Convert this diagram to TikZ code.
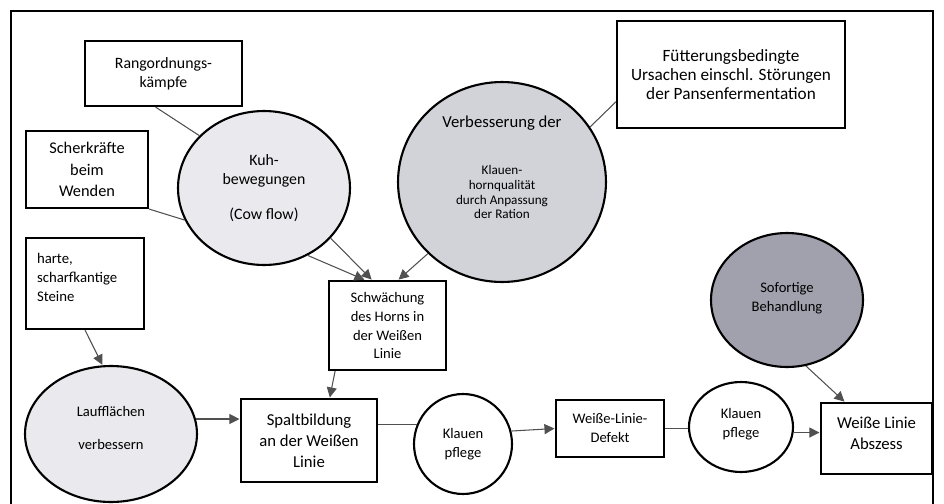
\documentclass[tikz,border=0pt]{standalone}
\usepackage{fontspec}
\setmainfont{Carlito}
\usepackage{xcolor}
\usepackage{tikz}
\usetikzlibrary{calc,arrows.meta,shapes.geometric}
\definecolor{lightg}{HTML}{E9E9EE}
\definecolor{midg}{HTML}{D2D2D9}
\definecolor{darkg}{HTML}{A0A1AD}
\definecolor{lnx}{HTML}{505050}
\newcommand{\fa}{\fontsize{9}{10.8}\selectfont}
\newcommand{\fb}{\fontsize{8.3}{10.8}\selectfont}
\newcommand{\fc}{\fontsize{9.5}{12}\selectfont}
\tikzset{
  bx/.style={draw,line width=1.2pt,inner sep=2pt,align=center,font=\fa},
  el/.style={ellipse,draw,line width=1.2pt,inner sep=0pt,align=center,font=\fa},
  ln/.style={line width=0.6pt,lnx},
  ar/.style={ln,-{Triangle[length=2mm,width=2mm]},shorten >=0.3pt}
}
\begin{document}
\begin{tikzpicture}[x=0.02cm,y=-0.02cm]
\useasboundingbox (0,0) rectangle (944,504);
\draw[line width=1.6pt] (11,504) -- (11,11) -- (933,11) -- (933,504);
% boxes
\node[bx,minimum width=3.14cm,minimum height=1.3cm] (rang) at (163.5,73.5) {Rangordnungs-\\kämpfe};
\node[bx,minimum width=2.44cm,minimum height=1.54cm,font=\fontsize{9.3}{12.2}\selectfont] (scher) at (87,169.5) {Scherkräfte\\beim\\Wenden};
\node[bx,minimum width=4.56cm,minimum height=2.14cm,font=\fontsize{9.8}{10.6}\selectfont] (fuett) at (731,74.5) {Fütterungsbedingte\\Ursachen einschl. Störungen\\der Pansenfermentation};
\node[bx,minimum width=2.36cm,minimum height=1.82cm,inner sep=0pt,align=left,font=\fontsize{8.4}{11}\selectfont] (harte) at (85,283.5)
  {\parbox[c][1.22cm][t]{1.92cm}{\raggedright harte,\\scharfkantige\\Steine}};
\node[bx,minimum width=2.34cm,minimum height=1.78cm,font=\fb] (schw) at (387.5,325.5) {Schwächung\\des Horns in\\der Weißen\\Linie};
\node[bx,minimum width=2.72cm,minimum height=1.66cm,font=\fc] (spalt) at (309,440.5) {Spaltbildung\\an der Weißen\\Linie};
\node[bx,minimum width=2.16cm,minimum height=1.14cm,font=\fb] (defekt) at (610,428.5) {Weiße-Linie-\\Defekt};
\node[bx,minimum width=2.22cm,minimum height=1.42cm,font=\fc] (absz) at (876.5,438.5) {Weiße Linie\\Abszess\\[-6pt]};
% ellipses
\node[el,fill=lightg,minimum width=3.44cm,minimum height=3.08cm] (kuh) at (264,188) {Kuh-\\bewegungen\\[9pt](Cow flow)};
\node[el,fill=midg,minimum width=4.16cm,minimum height=4cm,font=\fontsize{7.5}{8.5}\selectfont] (verb) at (502,182)
  {{\fontsize{9.5}{9.5}\selectfont Verbesserung der}\\[18pt]Klauen-\\hornqualität\\durch Anpassung\\der Ration\\[8pt]};
\node[el,fill=lightg,minimum width=3.44cm,minimum height=2.72cm,font=\fb] (lauf) at (111,434) {Laufflächen\\[8pt]verbessern\\[-3.6pt]};
\node[el,minimum width=1.96cm,minimum height=2cm,font=\fb] (kl1) at (463,444) {Klauen\\pflege};
\node[el,minimum width=2.08cm,minimum height=1.8cm,font=\fb] (kl2) at (741,427) {Klauen\\pflege\\[-6.4pt]};
\node[el,fill=darkg,minimum width=3.04cm,minimum height=2.68cm,font=\fb] (sof) at (787,300) {Sofortige\\Behandlung\\[-7pt]};
% connectors
\draw[ln] ($(rang.south west)!0.45!(rang.south east)$) -- (kuh.141);
\draw[ln] (scher.south east) -- (kuh.202);
\draw[ar] (kuh.323) -- ($(schw.north west)!0.37!(schw.north east)$);
\draw[ar] (kuh.303) -- ($(schw.north west)!0.31!(schw.north east)$);
\draw[ar] (verb.224) -- ($(schw.north west)!0.59!(schw.north east)$);
\draw[ln] ($(fuett.north west)!0.75!(fuett.south west)$) -- (verb.32);
\draw[ar] (harte.south) -- (lauf.97);
\draw[ar] ($(schw.south west)!0.06!(schw.south east)$) -- ($(spalt.north west)!0.65!(spalt.north east)$);
\draw[ar] (lauf.10) -- (lauf.10 -| spalt.west);
\draw[ln] (kl1.157 -| spalt.east) -- (kl1.157);
\draw[ar] (kl1.15) -- (defekt.west);
\draw[ln] (defekt.east) -- (defekt.east -| kl2.west);
\draw[ar] (kl2.-6) -- (kl2.-6 -| absz.west);
\draw[ar] (sof.286) -- ($(absz.north west)!0.22!(absz.north east)$);
\end{tikzpicture}
\end{document}
